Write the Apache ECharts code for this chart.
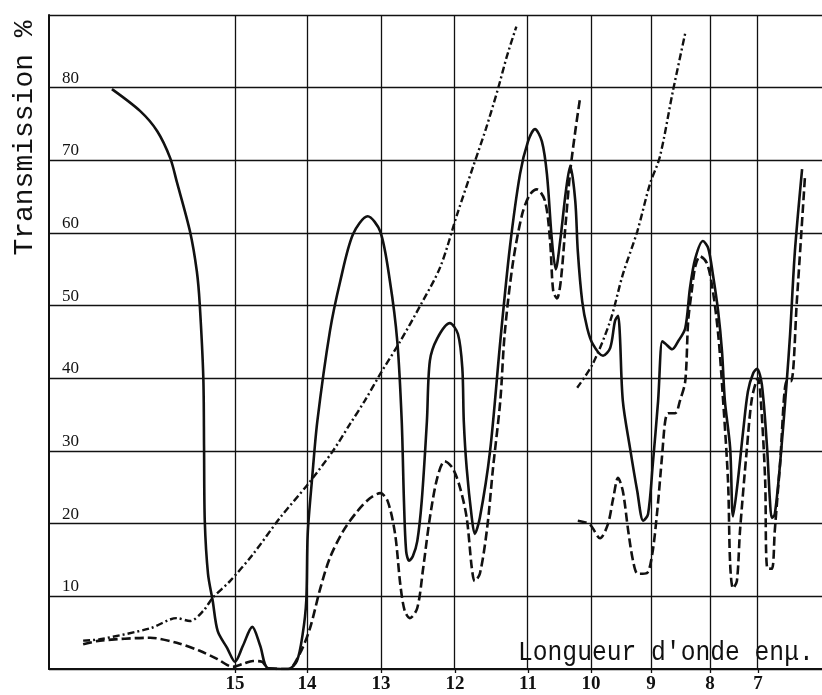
<!DOCTYPE html>
<html>
<head>
<meta charset="utf-8">
<script src="https://cdn.jsdelivr.net/npm/echarts@6/dist/echarts.min.js"></script>
<style>
html,body{margin:0;padding:0;background:#fff;}
#chart{width:822px;height:695px;}
</style>
</head>
<body>
<div id="chart"></div>
<script>
// Wavelength ticks (microns) and the instrument's (non-linear) dispersion scale at those ticks
const waveTicks = [15, 14, 13, 12, 11, 10, 9, 8, 7];
const axisScale = [0, 0.986, 2.0, 3.014, 4.014, 4.877, 5.699, 6.507, 7.164];
const yTicks = [10, 20, 30, 40, 50, 60, 70, 80];

// [wavelength µ, transmission %]
const solidCurve = [
  [16.71,79.8],[16.32,76.8],[16.08,74.0],[15.90,70.3],[15.81,67.1],[15.625,60.2],
  [15.53,54.7],[15.49,50.2],[15.44,40.0],[15.43,30.4],[15.42,20.4],[15.375,13.1],[15.31,9.4],
  [15.24,5.2],[15.11,2.9],[15.0,1.0],[14.89,3.2],[14.76,5.8],[14.65,3.2],[14.54,0.1],[14.26,0],
  [14.14,1.1],[14.06,4.8],[14.01,9.4],[13.99,18.6],[13.93,26.3],[13.86,34.1],[13.69,46.5],
  [13.55,53.4],[13.38,59.8],[13.18,62.3],[13.01,60.2],[12.88,53.4],[12.78,45.1],[12.72,34.1],
  [12.69,23.1],[12.66,16.2],[12.62,14.9],[12.57,15.5],[12.51,17.6],[12.45,23.1],[12.38,34.1],
  [12.34,42.4],[12.24,45.5],[12.07,47.6],[11.96,46.1],[11.90,41.4],[11.88,34.1],[11.84,27.6],
  [11.77,20.8],[11.73,18.6],[11.66,20.8],[11.52,30.0],[11.38,45.1],[11.25,57.9],[11.11,68.1],
  [11.0,72.6],[10.89,74.3],[10.78,72.6],[10.70,68.1],[10.62,58.9],[10.56,55.0],[10.49,58.9],
  [10.40,65.7],[10.33,69.2],[10.25,64.4],[10.21,57.5],[10.14,50.6],[10.06,46.9],[9.97,44.7],
  [9.80,43.1],[9.68,44.2],[9.60,47.9],[9.55,48.6],[9.52,46.1],[9.47,36.9],[9.35,30.4],
  [9.23,24.5],[9.13,20.4],[9.05,21.3],[8.97,28.2],[8.88,36.9],[8.81,45.1],[8.76,44.8],
  [8.64,44.0],[8.54,45.1],[8.42,46.9],[8.34,52.4],[8.25,56.5],[8.12,58.9],[8.03,57.9],
  [7.94,54.3],[7.83,49.2],[7.75,43.7],[7.69,36.9],[7.58,30.4],[7.52,21.0],[7.42,25.9],
  [7.31,32.7],[7.21,38.2],[7.10,40.7],[7.02,41.3],[6.92,39.2],[6.81,30.4],[6.75,23.1],
  [6.71,20.8],[6.65,21.3],[6.54,28.2],[6.40,39.6],[6.33,46.1],[6.23,57.5],[6.08,68.8]
];
const dashedCurveA = [
  [17.11,3.4],[16.875,3.9],[16.18,4.3],[15.81,3.6],[15.49,2.5],[15.25,1.4],[15.03,0.3],
  [14.89,0.7],[14.75,1.1],[14.625,1.0],[14.54,0.1],[14.26,0],[14.10,2.1],[13.96,5.6],
  [13.82,11.1],[13.69,15.3],[13.51,19.0],[13.32,21.7],[13.15,23.5],[13.01,24.2],[12.91,23.1],
  [12.81,18.6],[12.74,11.7],[12.68,8.0],[12.61,7.0],[12.51,8.4],[12.43,13.9],[12.34,20.8],
  [12.24,26.3],[12.14,28.6],[12.03,27.6],[11.93,24.9],[11.84,20.8],[11.77,13.9],[11.73,12.1],
  [11.66,13.1],[11.56,19.4],[11.48,27.6],[11.38,36.9],[11.32,46.1],[11.21,55.7],[11.08,62.6],
  [10.97,65.3],[10.86,66.0],[10.73,64.4],[10.65,58.9],[10.60,52.0],[10.54,51.0],[10.48,53.4],
  [10.40,61.6],[10.33,68.5],[10.25,74.0],[10.17,78.8]
];
const dashedCurveB = [
  [10.21,20.4],[10.02,19.9],[9.85,18.0],[9.72,19.9],[9.63,23.5],[9.55,26.3],[9.47,24.5],
  [9.38,19.0],[9.30,14.9],[9.22,13.1],[9.07,13.2],[8.98,15.8],[8.90,21.3],[8.81,29.6],
  [8.76,34.1],[8.71,35.2],[8.59,35.2],[8.51,36.9],[8.42,39.6],[8.37,47.9],[8.31,52.0],
  [8.25,55.4],[8.17,56.8],[8.05,55.8],[7.94,52.0],[7.83,46.1],[7.75,39.2],[7.625,25.9],
  [7.58,14.4],[7.52,11.1],[7.44,12.1],[7.375,19.0],[7.23,30.4],[7.125,37.3],[7.0,40.0],
  [6.94,36.9],[6.85,25.9],[6.81,13.9],[6.71,13.8],[6.65,19.0],[6.54,28.2],[6.40,39.6],
  [6.31,39.6],[6.19,50.6],[6.02,67.8]
];
const dashDotCurveA = [
  [17.11,3.9],[16.875,4.1],[16.18,5.6],[15.81,7.0],[15.625,6.6],[15.44,8.0],[15.31,9.8],
  [15.07,12.1],[14.75,15.8],[14.375,20.8],[13.99,25.4],[13.65,30.0],[13.42,33.7],[13.22,36.9],
  [13.01,40.6],[12.74,45.1],[12.47,50.0],[12.20,55.3],[11.97,62.6],[11.75,69.2],[11.575,74.4],
  [11.41,79.9],[11.29,84.3],[11.16,88.4]
];
const dashDotCurveB = [
  [10.22,38.7],[9.97,42.0],[9.68,47.9],[9.47,54.3],[9.23,60.2],[9.02,66.7],[8.85,70.5],
  [8.63,79.5],[8.42,87.5]
];

// wavelength -> dispersion scale (piecewise linear through the tick calibration)
function toScale(w) {
  const n = waveTicks.length;
  if (w >= waveTicks[0]) return axisScale[0] - (w - waveTicks[0]) * (axisScale[1] - axisScale[0]);
  if (w <= waveTicks[n - 1]) return axisScale[n - 1] + (waveTicks[n - 1] - w) * (axisScale[n - 1] - axisScale[n - 2]);
  for (let i = 0; i < n - 1; i++) {
    if (w <= waveTicks[i] && w >= waveTicks[i + 1]) {
      const t = (waveTicks[i] - w) / (waveTicks[i] - waveTicks[i + 1]);
      return axisScale[i] + t * (axisScale[i + 1] - axisScale[i]);
    }
  }
  return 0;
}
const conv = arr => arr.map(p => [toScale(p[0]), p[1]]);

const chart = echarts.init(document.getElementById('chart'), null, {renderer: 'canvas'});
const ink = '#111';
const lineBase = {type: 'line', showSymbol: false, symbol: 'none', smooth: 0.3, silent: true, animation: false};

const option = {
  animation: false,
  backgroundColor: '#fff',
  grid: {left: 49, right: 0, top: 15, bottom: 26, containLabel: false},
  xAxis: {
    type: 'value', min: -2.548, max: 8.041,
    axisLine: {show: true, onZero: false, lineStyle: {color: ink, width: 2}},
    splitLine: {show: false},
    axisTick: {show: true, customValues: axisScale, length: 4, lineStyle: {color: ink, width: 1.3}},
    axisLabel: {
      show: true, customValues: axisScale, margin: 6,
      color: ink, fontFamily: 'Liberation Serif', fontWeight: 'bold', fontSize: 19,
      formatter: v => {
        for (let i = 0; i < axisScale.length; i++) if (Math.abs(axisScale[i] - v) < 1e-6) return String(waveTicks[i]);
        return '';
      }
    }
  },
  yAxis: {
    type: 'value', min: 0, max: 90, interval: 10,
    axisLine: {show: true, onZero: false, lineStyle: {color: ink, width: 2}},
    axisTick: {show: false},
    splitLine: {show: true, lineStyle: {color: ink, width: 1.3}},
    axisLabel: {
      inside: true, margin: 13, verticalAlign: 'bottom', padding: [0, 0, 1, 0],
      color: ink, fontFamily: 'Liberation Serif', fontSize: 17,
      formatter: v => (yTicks.indexOf(v) >= 0 ? String(v) : '')
    }
  },
  graphic: [
    {type: 'text', x: 25, y: 138, rotation: Math.PI / 2, silent: true,
     style: {text: 'Transmission %', font: '28px "Liberation Mono"', fill: ink, textAlign: 'center', textVerticalAlign: 'middle'}},
    {type: 'text', x: 518, y: 667, scaleX: 0.88, silent: true,
     style: {text: "Longueur d'onde enμ.", font: '28px "Liberation Mono"', fill: ink, textAlign: 'left', textVerticalAlign: 'bottom'}}
  ],
  series: [
    {type: 'line', data: [], silent: true, z: 1,
     markLine: {silent: true, symbol: ['none', 'none'], label: {show: false}, animation: false,
       lineStyle: {color: ink, width: 1.3, type: 'solid'},
       data: axisScale.map(u => ({xAxis: u}))}},
    Object.assign({}, lineBase, {name: 'dashDotA', data: conv(dashDotCurveA), z: 3,
      lineStyle: {color: ink, width: 2.4, type: [7, 3, 2, 3]}}),
    Object.assign({}, lineBase, {name: 'dashDotB', data: conv(dashDotCurveB), z: 3,
      lineStyle: {color: ink, width: 2.4, type: [7, 3, 2, 3]}}),
    Object.assign({}, lineBase, {name: 'dashedA', data: conv(dashedCurveA), z: 4,
      lineStyle: {color: ink, width: 2.6, type: [9, 4]}}),
    Object.assign({}, lineBase, {name: 'dashedB', data: conv(dashedCurveB), z: 4,
      lineStyle: {color: ink, width: 2.6, type: [9, 4]}}),
    Object.assign({}, lineBase, {name: 'solid', data: conv(solidCurve), z: 5,
      lineStyle: {color: ink, width: 2.6, type: 'solid'}})
  ]
};
chart.setOption(option);
</script>
</body>
</html>
